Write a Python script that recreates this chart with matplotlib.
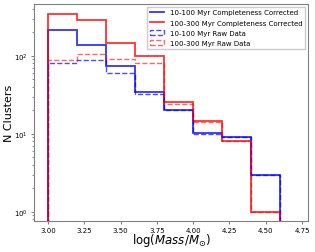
import numpy as np
import matplotlib
matplotlib.use('Agg')
import matplotlib.pyplot as plt

# log mass bin edges
edges = [3.0, 3.2, 3.4, 3.6, 3.8, 4.0, 4.2, 4.4, 4.6]

# completeness corrected counts
young_cc = [214, 140, 74, 34, 20.4, 10.2, 9, 3]
old_cc = [348, 288, 146, 99, 25.9, 14.6, 8.1, 1]

# raw counts
young_raw = [80, 88, 61, 32, 20, 10, 9, 3]
old_raw = [88, 105, 90, 80, 24, 14, 8, 1]

fig = plt.figure(figsize=(3.15, 2.53), dpi=100)
ax = fig.add_axes([0.109, 0.1245, 0.868, 0.8565])

ax.stairs(young_cc, edges, color='blue', lw=1.3, alpha=0.8,
          label='10-100 Myr Completeness Corrected')
ax.stairs(old_cc, edges, color='red', lw=1.3, alpha=0.8,
          label='100-300 Myr Completeness Corrected')
ax.hist(edges[:-1], bins=edges, weights=young_raw, histtype='step', ls='--',
        color='blue', lw=1.0, alpha=0.7, label='10-100 Myr Raw Data')
ax.hist(edges[:-1], bins=edges, weights=old_raw, histtype='step', ls='--',
        color='red', lw=1.0, alpha=0.6, label='100-300 Myr Raw Data')

ax.set_yscale('log')
ax.set_xlim(2.905, 4.79)
ax.set_ylim(0.77, 467)
ax.set_xticks([3.0, 3.25, 3.5, 3.75, 4.0, 4.25, 4.5, 4.75])

for s in ax.spines.values():
    s.set_color('0.5')
ax.tick_params(labelsize=5, colors='0.4', labelcolor='black', width=0.6, length=2.5, pad=2)
ax.tick_params(which='minor', width=0.5, length=1.5, colors='0.4')

ax.set_xlabel(r'$\log(Mass/M_{\odot})$', fontsize=8.5, labelpad=-1)
ax.set_ylabel('N Clusters', fontsize=8)
ax.yaxis.set_label_coords(-0.075, 0.5)

ax.legend(fontsize=5, loc='upper right', handlelength=2.0, borderaxespad=0.4,
          labelspacing=0.6, framealpha=1, edgecolor='0.8', fancybox=False)

fig.savefig('out.png', dpi=100)
